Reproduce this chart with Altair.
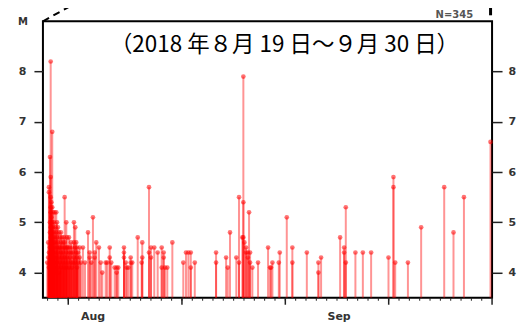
import altair as alt
import pandas as pd

# Day numbers count from Aug 1 = 1 (so Sep 1 = 32, Oct 1 = 62)
event_groups = [
    (18.97, [4.2]),
    (19.06, [4.3, 4.6]),
    (19.13, [5.7, 5.6, 4.4, 4.1]),
    (19.23, [6.3, 5.0, 4.8, 4.5, 4.2]),
    (19.30, [8.2, 5.9, 5.5, 5.3, 5.2, 4.9, 4.7, 4.4, 4.1]),
    (19.37, [5.4, 5.1, 4.9, 4.6, 4.3, 4.0]),
    (19.45, [6.8, 5.3, 5.0, 4.8, 4.5, 4.2]),
    (19.52, [5.2, 4.9, 4.7, 4.4, 4.1]),
    (19.61, [5.0, 4.8, 4.6, 4.3, 4.0]),
    (19.68, [5.2, 4.7, 4.5, 4.2]),
    (19.76, [4.9, 4.6, 4.4, 4.1]),
    (19.84, [5.2, 4.8, 4.3]),
    (19.91, [5.0, 4.7, 4.5, 4.2]),
    (20.00, [4.9, 4.6, 4.4, 4.1]),
    (20.10, [4.8, 4.5, 4.3, 4.0]),
    (20.20, [4.7, 4.5, 4.2]),
    (20.29, [4.8, 4.6, 4.4, 4.1]),
    (20.39, [4.7, 4.5, 4.3]),
    (20.49, [4.6, 4.4, 4.2]),
    (20.58, [4.7, 4.5, 4.1]),
    (20.65, [5.5, 4.6, 4.3]),
    (20.73, [4.5, 4.2]),
    (20.81, [5.0, 4.4, 4.1]),
    (20.87, [4.7, 4.5, 4.3]),
    (20.97, [4.5, 4.2]),
    (21.07, [4.7, 4.4, 4.1]),
    (21.16, [4.5, 4.3]),
    (21.26, [4.6, 4.4, 4.2]),
    (21.36, [4.5, 4.1]),
    (21.45, [4.4, 4.2]),
    (21.55, [5.0, 4.6, 4.3]),
    (21.68, [4.9, 4.5, 4.2]),
    (21.77, [4.6, 4.4]),
    (21.84, [4.5, 4.3, 4.1]),
    (21.94, [4.4, 4.2]),
    (22.10, [4.5, 4.3]),
    (22.23, [4.2]),
    (22.42, [4.5]),
    (22.62, [4.2]),
    (22.91, [4.8]),
    (23.07, [4.4, 4.3]),
    (23.23, [4.2]),
    (23.39, [5.1]),
    (23.55, [4.4, 4.3]),
    (23.71, [4.6]),
    (23.97, [4.5]),
    (24.14, [4.2]),
    (24.29, [4.0]),
    (24.62, [4.2]),
    (24.77, [4.2]),
    (25.01, [4.5, 4.3]),
    (25.16, [4.2]),
    (25.49, [4.1]),
    (25.68, [4.1, 4.0]),
    (25.84, [4.1]),
    (26.39, [4.5, 4.4, 4.3]),
    (26.56, [4.2]),
    (26.65, [4.1]),
    (26.81, [4.1]),
    (27.04, [4.3, 4.2]),
    (27.19, [4.2]),
    (27.72, [4.7]),
    (28.10, [4.2]),
    (28.16, [4.6, 4.3]),
    (28.81, [5.7, 4.4]),
    (29.00, [4.5, 4.3]),
    (29.32, [4.5]),
    (29.65, [4.4]),
    (30.04, [4.5, 4.1]),
    (30.23, [4.4, 4.3]),
    (30.36, [4.1]),
    (30.58, [4.1]),
    (31.07, [4.6]),
    (32.13, [4.2]),
    (32.39, [4.4]),
    (32.62, [4.4]),
    (32.85, [4.4, 4.1]),
    (33.24, [4.2]),
    (35.30, [4.4, 4.2]),
    (36.27, [4.3]),
    (36.43, [4.1]),
    (36.65, [4.8]),
    (37.26, [4.3]),
    (37.52, [5.5, 4.2]),
    (37.84, [4.7]),
    (37.94, [7.9, 5.4, 4.7]),
    (38.04, [4.6]),
    (38.20, [4.5, 4.4]),
    (38.37, [4.4, 4.3]),
    (38.49, [5.2]),
    (38.59, [4.4, 4.2]),
    (38.81, [4.1]),
    (39.36, [4.2]),
    (40.33, [4.5]),
    (40.52, [4.1]),
    (40.62, [4.1]),
    (40.75, [4.2]),
    (41.37, [4.2]),
    (41.46, [4.4]),
    (42.14, [5.1]),
    (42.68, [4.5, 4.2]),
    (44.08, [4.4]),
    (45.20, [4.2, 4.0]),
    (45.46, [4.3]),
    (47.30, [4.7]),
    (47.69, [4.5, 4.4]),
    (47.85, [5.3, 4.2]),
    (48.78, [4.4]),
    (49.50, [4.4]),
    (50.30, [4.4]),
    (51.98, [4.3]),
    (52.46, [5.9, 5.7]),
    (52.63, [4.2]),
    (53.86, [4.2]),
    (55.14, [4.9]),
    (57.37, [5.7]),
    (58.27, [4.8]),
    (59.28, [5.5]),
    (61.85, [6.6]),
]

y_ticks = [4, 5, 6, 7, 8]
major_tick_days = [21, 32, 42, 52, 62]
minor_tick_days = list(range(19, 62))
month_labels = ["Aug", "Sep"]
month_label_days = [23.4, 47.2]
title_text = "（2018 年８月 19 日～９月 30 日）"
count_text = "N=345"
y_label = "M"

X_DOMAIN = [18.55, 62.0]
Y_DOMAIN = [3.5, 9.0]
W, H = 450, 277

rows = [{"day": d, "M": m} for d, ms in event_groups for m in ms]
events = pd.DataFrame(rows)

xs = alt.Scale(domain=X_DOMAIN, nice=False, zero=False)
ys = alt.Scale(domain=Y_DOMAIN, nice=False, zero=False)

axis_common = dict(values=y_ticks, grid=False, domain=False, tickColor="#222",
                   tickWidth=1.5, labelFont="DejaVu Sans", labelFontWeight="bold",
                   labelFontSize=11, labelColor="#333", title=None)

stems = alt.Chart(events).mark_rule(color="#ff0000", strokeWidth=2, opacity=0.42).encode(
    x=alt.X("day:Q", scale=xs, axis=None),
    y=alt.Y("M:Q", scale=ys, axis=alt.Axis(orient="left", tickSize=9, labelPadding=8, **axis_common)),
    y2=alt.datum(3.5),
)

points = alt.Chart(events).mark_circle(color="#ff0000", size=22, opacity=0.55).encode(
    x=alt.X("day:Q", scale=xs, axis=None),
    y=alt.Y("M:Q", scale=ys, axis=alt.Axis(orient="right", tickSize=10, labelPadding=6, **axis_common)),
)

minor = alt.Chart(pd.DataFrame({"day": minor_tick_days})).mark_rule(color="#222", strokeWidth=1).encode(
    x=alt.X("day:Q", scale=xs, axis=None),
    y=alt.value(H), y2=alt.value(H + 3),
)

major = alt.Chart(pd.DataFrame({"day": major_tick_days})).mark_rule(color="#222", strokeWidth=1.5).encode(
    x=alt.X("day:Q", scale=xs, axis=None),
    y=alt.value(H), y2=alt.value(H + 7),
)

months = alt.Chart(pd.DataFrame({"day": month_label_days, "label": month_labels})).mark_text(
    font="DejaVu Sans", fontWeight="bold", fontSize=11, color="#333", baseline="middle"
).encode(
    x=alt.X("day:Q", scale=xs, axis=None),
    y=alt.value(H + 19),
    text="label:N",
)

title = alt.Chart(pd.DataFrame({"t": [title_text]})).mark_text(
    font="Noto Sans CJK JP", fontSize=22.5, color="#000", align="center", baseline="middle"
).encode(x=alt.value(242), y=alt.value(24), text="t:N")

count = alt.Chart(pd.DataFrame({"t": [count_text]})).mark_text(
    font="DejaVu Sans", fontWeight="bold", fontSize=10, color="#555", align="right", baseline="middle"
).encode(x=alt.value(431), y=alt.value(-6), text="t:N")

mlabel = alt.Chart(pd.DataFrame({"t": [y_label]})).mark_text(
    font="DejaVu Sans", fontWeight="bold", fontSize=10, color="#333", align="center", baseline="middle"
).encode(x=alt.value(-20), y=alt.value(1), text="t:N")

dash = alt.Chart(pd.DataFrame({"t": [0]})).mark_rule(color="#000", strokeWidth=2, strokeDash=[7, 5]).encode(
    x=alt.value(0), y=alt.value(0), x2=alt.value(38), y2=alt.value(-21)
)

vline = alt.Chart(pd.DataFrame({"t": [0]})).mark_rule(color="#000", strokeWidth=3).encode(
    x=alt.value(448.5), y=alt.value(-14), y2=alt.value(-6)
)

chart = alt.layer(
    stems, points, minor, major, months, title, count, mlabel, dash, vline
).resolve_axis(y="independent").properties(
    width=W, height=H,
    background="white",
    autosize=alt.AutoSizeParams(type="none"),
    padding={"left": 35, "top": 13, "right": 30, "bottom": 24},
).configure_view(stroke="#000", strokeWidth=2)

chart.save("out.html", embed_options={"renderer": "svg", "actions": False})
